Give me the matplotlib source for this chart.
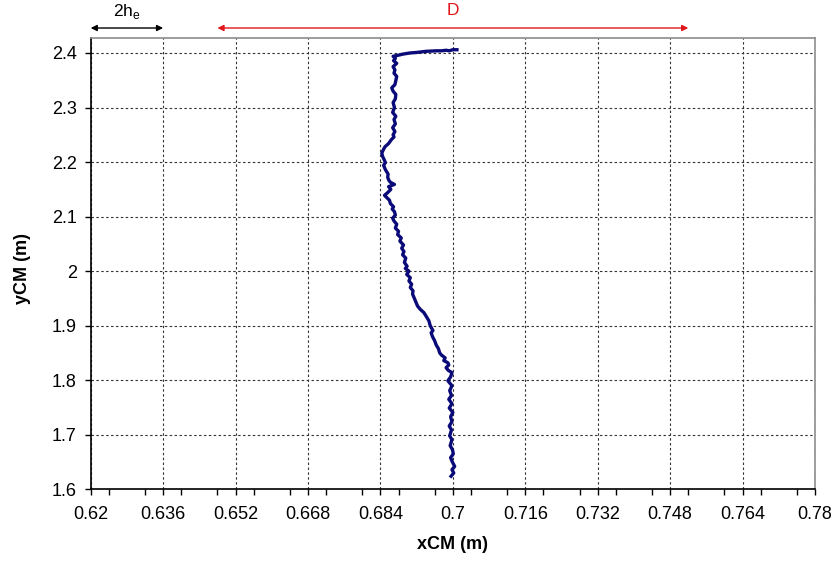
import matplotlib
matplotlib.use("Agg")
import matplotlib.pyplot as plt
from matplotlib.ticker import MultipleLocator, FixedLocator
import matplotlib.transforms as mtransforms

# centre of mass trajectory (bottom to top)
ycm = [1.624, 1.630, 1.636, 1.642, 1.650, 1.658, 1.665, 1.673, 1.680, 1.691,
       1.698, 1.709, 1.716, 1.724, 1.733, 1.741, 1.749, 1.757, 1.765, 1.772,
       1.781, 1.790, 1.799, 1.806, 1.814, 1.818, 1.823, 1.828, 1.832, 1.836,
       1.841, 1.846, 1.850, 1.858, 1.865, 1.872, 1.880, 1.887, 1.891, 1.900,
       1.909, 1.916, 1.924, 1.930, 1.936, 1.944, 1.952, 1.958, 1.964, 1.970,
       1.976, 1.982, 1.988, 1.994, 2.000, 2.005, 2.009, 2.016, 2.024, 2.030,
       2.036, 2.042, 2.048, 2.055, 2.061, 2.067, 2.073, 2.079, 2.086, 2.092,
       2.097, 2.103, 2.109, 2.114, 2.118, 2.124, 2.130, 2.134, 2.139, 2.144,
       2.150, 2.155, 2.159, 2.163, 2.166, 2.172, 2.178, 2.186, 2.194, 2.199,
       2.203, 2.210, 2.216, 2.222, 2.228, 2.234, 2.241, 2.246, 2.250, 2.256,
       2.263, 2.270, 2.278, 2.284, 2.291, 2.300, 2.309, 2.316, 2.324, 2.330,
       2.336, 2.342, 2.350, 2.357, 2.363, 2.369, 2.375, 2.381, 2.386, 2.390,
       2.394, 2.396, 2.398, 2.400, 2.401, 2.403, 2.404, 2.404, 2.405, 2.404,
       2.406, 2.406]
xcm = [0.6996, 0.7002, 0.6998, 0.7004, 0.6999, 0.6995, 0.7001, 0.6999, 0.6994, 0.6998,
       0.6993, 0.6997, 0.6992, 0.6998, 0.6995, 0.7000, 0.6992, 0.6998, 0.6991, 0.6997,
       0.6993, 0.6998, 0.6989, 0.6995, 0.6998, 0.6990, 0.6985, 0.6991, 0.6989, 0.6980,
       0.6983, 0.6975, 0.6971, 0.6968, 0.6963, 0.6960, 0.6955, 0.6952, 0.6956, 0.6950,
       0.6947, 0.6942, 0.6936, 0.6928, 0.6922, 0.6918, 0.6914, 0.6911, 0.6912, 0.6906,
       0.6909, 0.6903, 0.6906, 0.6898, 0.6903, 0.6895, 0.6899, 0.6893, 0.6896, 0.6889,
       0.6892, 0.6887, 0.6891, 0.6883, 0.6886, 0.6878, 0.6880, 0.6873, 0.6876, 0.6870,
       0.6867, 0.6873, 0.6871, 0.6866, 0.6869, 0.6862, 0.6860, 0.6855, 0.6849, 0.6856,
       0.6863, 0.6858, 0.6871, 0.6862, 0.6859, 0.6856, 0.6857, 0.6851, 0.6847, 0.6851,
       0.6849, 0.6845, 0.6843, 0.6846, 0.6850, 0.6858, 0.6864, 0.6870, 0.6868, 0.6872,
       0.6867, 0.6873, 0.6870, 0.6874, 0.6867, 0.6871, 0.6868, 0.6873, 0.6874, 0.6868,
       0.6865, 0.6872, 0.6874, 0.6876, 0.6870, 0.6872, 0.6868, 0.6876, 0.6869, 0.6873,
       0.6868, 0.6880, 0.6890, 0.6905, 0.6920, 0.6940, 0.6963, 0.6975, 0.6985, 0.6992,
       0.7000, 0.7009]

x_ticks = [0.62, 0.636, 0.652, 0.668, 0.684, 0.7, 0.716, 0.732, 0.748, 0.764, 0.78]
x_tick_labels = ["0.62", "0.636", "0.652", "0.668", "0.684", "0.7",
                 "0.716", "0.732", "0.748", "0.764", "0.78"]
y_ticks = [1.6, 1.7, 1.8, 1.9, 2.0, 2.1, 2.2, 2.3, 2.4]
y_tick_labels = ["1.6", "1.7", "1.8", "1.9", "2", "2.1", "2.2", "2.3", "2.4"]

# dimension arrows above the plot (x in data units)
he_span = (0.62, 0.636)
d_span = (0.648, 0.752)

plt.rcParams["font.family"] = ["Liberation Sans", "DejaVu Sans"]

fig = plt.figure(figsize=(8.35, 5.63), dpi=100)
ax = fig.add_axes([0.1086, 0.1309, 0.8675, 0.8021])

ax.plot(xcm, ycm, color="#0a0a78", lw=2.4, solid_joinstyle="round")

ax.set_xlim(0.62, 0.78)
ax.set_ylim(1.6, 2.428)
ax.xaxis.set_major_locator(FixedLocator(x_ticks))
ax.set_xticklabels(x_tick_labels)
ax.xaxis.set_minor_locator(MultipleLocator(0.008))
ax.yaxis.set_major_locator(FixedLocator(y_ticks))
ax.set_yticklabels(y_tick_labels)

ax.grid(True, which="major", color="#333333", lw=0.8, linestyle=(0, (2.2, 2.2)))
ax.tick_params(axis="both", which="major", direction="out", length=4, width=1,
               labelsize=13, pad=6, color="black")
ax.tick_params(axis="x", which="minor", direction="out", length=4, width=1, color="black")
ax.tick_params(axis="x", which="major", pad=8)

for side in ["left", "bottom"]:
    ax.spines[side].set_color("black")
    ax.spines[side].set_linewidth(1.2)
for side in ["top", "right"]:
    ax.spines[side].set_color("#8c8c8c")
    ax.spines[side].set_linewidth(1.2)

ax.set_xlabel("xCM (m)", fontsize=13, fontweight="bold")
ax.set_ylabel("yCM (m)", fontsize=13, fontweight="bold")
ax.xaxis.set_label_coords(0.5, -0.103)
ax.yaxis.set_label_coords(-0.082, 0.49)

trans = mtransforms.blended_transform_factory(ax.transData, ax.transAxes)
ax.annotate("", xy=(he_span[0], 1.0215), xytext=(he_span[1], 1.0215),
            xycoords=trans, textcoords=trans, annotation_clip=False,
            arrowprops=dict(arrowstyle="<|-|>", color="black", lw=1,
                            mutation_scale=9, shrinkA=0, shrinkB=0))
ax.text((he_span[0] + he_span[1]) / 2, 1.057, "2h$_\\mathregular{e}$", transform=trans,
        ha="center", va="center", fontsize=12.5, color="black")
ax.annotate("", xy=(d_span[0], 1.0215), xytext=(d_span[1], 1.0215),
            xycoords=trans, textcoords=trans, annotation_clip=False,
            arrowprops=dict(arrowstyle="<|-|>", color="#e0161b", lw=1,
                            mutation_scale=9, shrinkA=0, shrinkB=0))
ax.text((d_span[0] + d_span[1]) / 2, 1.06, "D", transform=trans,
        ha="center", va="center", fontsize=12.5, color="#e0161b")

fig.savefig("out.png", dpi=100)
